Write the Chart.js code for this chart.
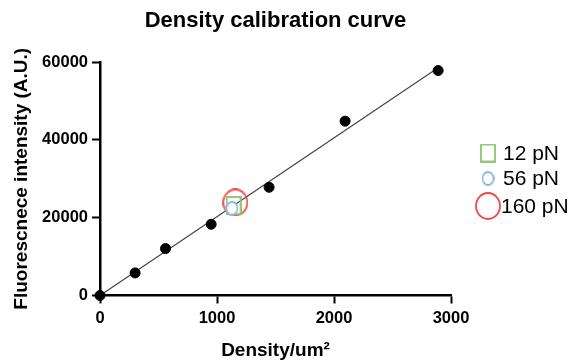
<!DOCTYPE html>
<html>
<head>
<meta charset="utf-8">
<script src="https://cdn.jsdelivr.net/npm/chart.js@4.4.1/dist/chart.umd.min.js"></script>
<style>
  html, body { margin: 0; padding: 0; background: #fff; }
  #wrap { width: 574px; height: 360px; }
</style>
</head>
<body>
<div id="wrap"><canvas id="chart" width="574" height="360"></canvas></div>
<script>
// calibration points (density per um^2, fluorescence A.U.)
const densities = [0, 300, 560, 950, 1445, 2095, 2890];
const intensities = [0, 5800, 12050, 18300, 27800, 44800, 57800];

// linear fit drawn through the points
const fitX = [0, 2890];
const fitY = [0, 58500];

// force-probe measurements
const probeLabels = ['12 pN', '56 pN', '160 pN'];
const probeX = [1142, 1128, 1157];
const probeY = [23100, 22400, 23900];

const xTicks = [0, 1000, 2000, 3000];
const yTicks = [0, 20000, 40000, 60000];

const FONT = "'Liberation Sans', Arial, sans-serif";

// marker shapes, drawn to small canvases so they can be used as pointStyle
const makeMarker = (w, h, color, shape, fill) => {
    const c = document.createElement('canvas');
    c.width = w; c.height = h;
    const ctx = c.getContext('2d');
    ctx.strokeStyle = color;
    ctx.lineWidth = 1.8;
    if (shape === 'rect') {
        ctx.strokeRect(1, 1, w - 2, h - 2);
    } else {
        ctx.beginPath();
        ctx.ellipse(w / 2, h / 2, w / 2 - 1, h / 2 - 1, 0, 0, Math.PI * 2);
        if (fill) { ctx.fillStyle = fill; ctx.fill(); }
        ctx.stroke();
    }
    return c;
};

const markers = [
    makeMarker(16, 19, '#8cc46a', 'rect'),
    makeMarker(13, 15, '#8db6e2', 'ellipse', '#ffffff'),
    makeMarker(26, 28, '#f0484a', 'ellipse')
];

// simple legend on the right, one marker per probe
const sideLegend = {
    id: 'sideLegend',
    afterDraw(chart) {
        const ctx = chart.ctx;
        const rows = [153, 178.5, 206];
        ctx.save();
        ctx.font = '21px ' + FONT;
        ctx.fillStyle = '#000';
        ctx.textBaseline = 'middle';
        probeLabels.forEach((lab, i) => {
            const m = markers[i];
            ctx.drawImage(m, 488 - m.width / 2, rows[i] - m.height / 2);
            ctx.fillText(lab, i === 2 ? 501 : 503, rows[i] + 1);
        });
        ctx.restore();
    }
};

const toPts = (xs, ys) => xs.map((x, i) => ({ x: x, y: ys[i] }));

const datasets = [
    {
        label: probeLabels[1],
        data: [{ x: probeX[1], y: probeY[1] }],
        pointStyle: markers[1],
        showLine: false
    },
    {
        label: probeLabels[0],
        data: [{ x: probeX[0], y: probeY[0] }],
        pointStyle: markers[0],
        showLine: false
    },
    {
        label: probeLabels[2],
        data: [{ x: probeX[2], y: probeY[2] }],
        pointStyle: markers[2],
        showLine: false
    },
    {
        label: 'calibration',
        data: toPts(densities, intensities),
        pointStyle: 'circle',
        pointRadius: 5,
        pointBackgroundColor: '#000',
        pointBorderColor: '#000',
        showLine: false
    },
    {
        label: 'fit',
        data: toPts(fitX, fitY),
        showLine: true,
        borderColor: '#444',
        borderWidth: 1.2,
        pointRadius: 0
    }
];
datasets.forEach(d => { d.clip = false; });

const tickFont = { family: FONT, size: 16.5, weight: 'bold' };

new Chart(document.getElementById('chart'), {
    type: 'scatter',
    data: { datasets: datasets },
    plugins: [sideLegend],
    options: {
        responsive: false,
        animation: false,
        events: [],
        layout: { padding: { left: 0, right: 123, top: 0, bottom: 0 } },
        plugins: {
            legend: { display: false },
            tooltip: { enabled: false },
            title: {
                display: true,
                fullSize: false,
                text: 'Density calibration curve',
                color: '#000',
                font: { family: FONT, size: 22, weight: 'bold', lineHeight: 1.2 },
                padding: { top: 8, bottom: 27.6 }
            }
        },
        scales: {
            x: {
                type: 'linear',
                min: 0,
                max: 3000,
                afterFit: s => { s.height = 64.5; },
                afterBuildTicks: s => { s.ticks = xTicks.map(v => ({ value: v })); },
                border: { color: '#000', width: 2.5 },
                grid: { drawOnChartArea: false, drawTicks: true, tickLength: 8, tickColor: '#000', tickWidth: 2 },
                ticks: { color: '#000', padding: 5, font: tickFont, callback: v => String(v) },
                title: {
                    display: true,
                    text: 'Density/um²',
                    color: '#000',
                    font: { family: FONT, size: 19, weight: 'bold', lineHeight: 1 },
                    padding: { top: 0, bottom: 0 }
                }
            },
            y: {
                type: 'linear',
                min: 0,
                max: 60000,
                afterFit: s => { s.width = 100; },
                afterBuildTicks: s => { s.ticks = yTicks.map(v => ({ value: v })); },
                border: { color: '#000', width: 2.5 },
                grid: { drawOnChartArea: false, drawTicks: true, tickLength: 8, tickColor: '#000', tickWidth: 2 },
                ticks: { color: '#000', padding: 4, font: tickFont, callback: v => String(v) },
                title: {
                    display: true,
                    text: 'Fluorescnece intensity (A.U.)',
                    color: '#000',
                    font: { family: FONT, size: 19, weight: 'bold', lineHeight: 1 },
                    padding: { top: 12, bottom: 0 }
                }
            }
        }
    }
});
</script>
</body>
</html>
